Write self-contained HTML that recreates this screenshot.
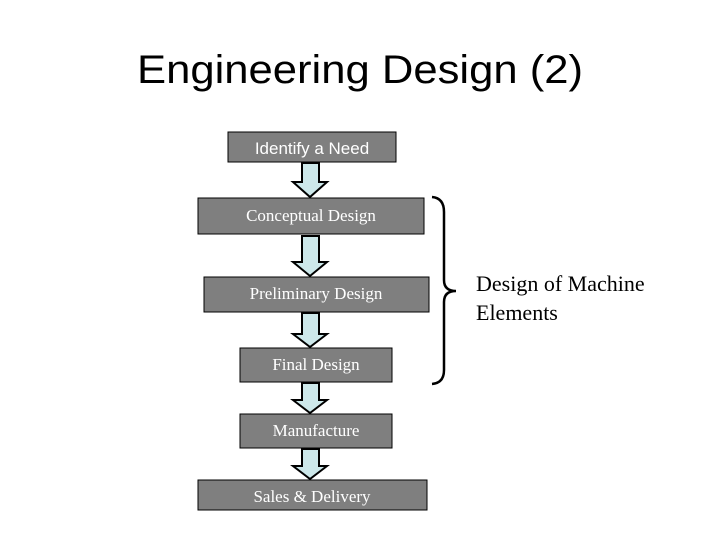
<!DOCTYPE html>
<html><head><meta charset="utf-8"><style>
html,body{margin:0;padding:0;background:#fff}
svg{display:block}
</style></head><body>
<svg width="720" height="540" viewBox="0 0 720 540" xmlns="http://www.w3.org/2000/svg">
<rect width="720" height="540" fill="#fff"/>
<text x="360" y="83" text-anchor="middle" font-family="Liberation Sans, sans-serif" font-size="40" textLength="446" lengthAdjust="spacingAndGlyphs">Engineering Design (2)</text>
<g fill="#7f7f7f" stroke="#000" stroke-width="1">
<rect x="228" y="132" width="168" height="30"/>
<rect x="198" y="198" width="226" height="36"/>
<rect x="204" y="277" width="225" height="35"/>
<rect x="240" y="348" width="152" height="34"/>
<rect x="240" y="414" width="152" height="34"/>
<rect x="198" y="480" width="229" height="30"/>
</g>
<g fill="#cde8ea" stroke="#000" stroke-width="2" stroke-linejoin="miter">
<path d="M302,163 H319 V182 H327 L310,197 L293,182 H302 Z"/>
<path d="M302,236 H319 V262 H327 L310,276 L293,262 H302 Z"/>
<path d="M302,313 H319 V334 H327 L310,347 L293,334 H302 Z"/>
<path d="M302,383 H319 V400 H327 L310,413 L293,400 H302 Z"/>
<path d="M302,449 H319 V466 H327 L310,479 L293,466 H302 Z"/>
</g>
<g fill="#fff" text-anchor="middle">
<text x="312" y="154" font-family="Liberation Sans, sans-serif" font-size="17">Identify a Need</text>
<text x="311" y="221" font-family="Liberation Serif, serif" font-size="17">Conceptual Design</text>
<text x="316" y="299" font-family="Liberation Serif, serif" font-size="17">Preliminary Design</text>
<text x="316" y="370" font-family="Liberation Serif, serif" font-size="17">Final Design</text>
<text x="316" y="436" font-family="Liberation Serif, serif" font-size="17">Manufacture</text>
<text x="312" y="502" font-family="Liberation Serif, serif" font-size="17">Sales &amp; Delivery</text>
</g>
<path d="M432,197 Q444,198 444,212 V280 Q444,291 456,291 Q444,291 444,302 V370 Q444,383 432,384" fill="none" stroke="#000" stroke-width="2.5"/>
<text font-family="Liberation Serif, serif" font-size="22" fill="#000"><tspan x="476" y="291">Design of Machine</tspan><tspan x="476" y="320">Elements</tspan></text>
</svg>
</body></html>
